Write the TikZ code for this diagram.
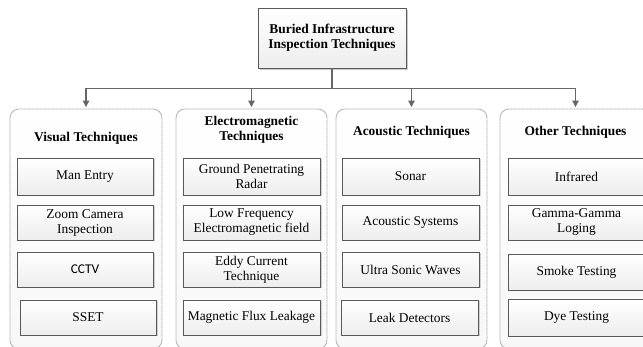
\documentclass[tikz,border=0pt]{standalone}
\usepackage{fontspec}
\setmainfont{Liberation Serif}
\newfontfamily\cctvfont{Carlito}
\usetikzlibrary{shadows,arrows.meta}
\begin{document}
\begin{tikzpicture}[x=1pt,y=-1pt,
  every node/.style={font=\fontsize{13.4}{15}\selectfont, align=center, inner sep=0pt},
  itembox/.style={draw=black!65, line width=0.8pt, top color=white, bottom color=gray!14,
     drop shadow={shadow xshift=1.5pt, shadow yshift=-1.5pt, fill=gray!45, opacity=0.8},
     minimum width=137pt},
  groupbox/.style={draw=gray!60, line width=0.9pt, dash pattern=on 1.2pt off 0.4pt,
     rounded corners=9pt, top color=white, bottom color=gray!6,
     minimum width=151pt, minimum height=240pt},
  headbox/.style={draw=black!65, line width=0.8pt, top color=white, bottom color=gray!14,
     drop shadow={shadow xshift=2pt, shadow yshift=-2pt, fill=gray!50, opacity=0.8},
     minimum width=148pt, minimum height=60pt, font=\fontsize{13.4}{15}\selectfont\bfseries},
  grouptitle/.style={font=\fontsize{13.4}{15}\selectfont\bfseries},
  conn/.style={draw=black!60, line width=1.2pt},
  arr/.style={conn, -{Triangle[length=6.5pt,width=6.5pt]}, shorten >=1.5pt}
]
\clip (0,0) rectangle (643,347);
\fill[white] (0,0) rectangle (643,347);

% top box
\node[headbox] (top) at (332,38) {Buried Infrastructure\\Inspection Techniques};

% groups
\node[groupbox, minimum width=152pt] (g1) at (86,229) {};
\node[groupbox] (g2) at (251.5,229) {};
\node[groupbox] (g3) at (411.5,229) {};
\node[groupbox] (g4) at (575.5,229) {};

% connectors
\draw[conn] (top.south) -- ++(0,20) coordinate (j);
\draw[arr] (j) -| (g1.north);
\draw[arr] (j) -| (g2.north);
\draw[arr] (j) -| (g3.north);
\draw[arr] (j) -| (g4.north);

% group titles
\node[grouptitle] (t1) at (86,138) {Visual Techniques};
\node[grouptitle] (t2) at (251.5,130) {Electromagnetic\\Techniques};
\node[grouptitle] (t3) at (411.5,132) {Acoustic Techniques};
\node[grouptitle] (t4) at (575.5,132) {Other Techniques};

% visual
\node[itembox, minimum width=136pt, minimum height=37pt] (v1) at (85,176.5) {Man Entry};
\node[itembox, minimum width=136pt, minimum height=35pt] (v2) at (85,222.5) {Zoom Camera\\Inspection};
\node[itembox, minimum width=136pt, minimum height=35pt] (v3) at (85,269.5) {\cctvfont CCTV};
\node[itembox, minimum width=136pt, minimum height=35pt] (v4) at (88,317.5) {SSET};

% electromagnetic
\node[itembox, minimum height=37pt] (e1) at (251.5,176.5) {Ground Penetrating\\Radar};
\node[itembox, minimum height=35pt] (e2) at (251.5,222.5) {Low Frequency\\Electromagnetic field};
\node[itembox, minimum height=35pt] (e3) at (251.5,269.5) {Eddy Current\\Technique};
\node[itembox, minimum height=35pt] (e4) at (251.5,317.5) {Magnetic Flux Leakage};

% acoustic
\node[itembox, minimum height=37pt] (a1) at (410.5,176.5) {Sonar};
\node[itembox, minimum height=35pt] (a2) at (410.5,222.5) {Acoustic Systems};
\node[itembox, minimum height=35pt] (a3) at (410.5,269.5) {Ultra Sonic Waves};
\node[itembox, minimum height=35pt] (a4) at (409.5,317.5) {Leak Detectors};

% other
\node[itembox, minimum height=37pt] (o1) at (576.5,176.5) {Infrared};
\node[itembox, minimum height=35pt] (o2) at (576.5,222.5) {Gamma-Gamma\\Loging};
\node[itembox, minimum height=36pt] (o3) at (576.5,272) {Smoke Testing};
\node[itembox, minimum height=37pt] (o4) at (576.5,317.5) {Dye Testing};
\end{tikzpicture}
\end{document}
